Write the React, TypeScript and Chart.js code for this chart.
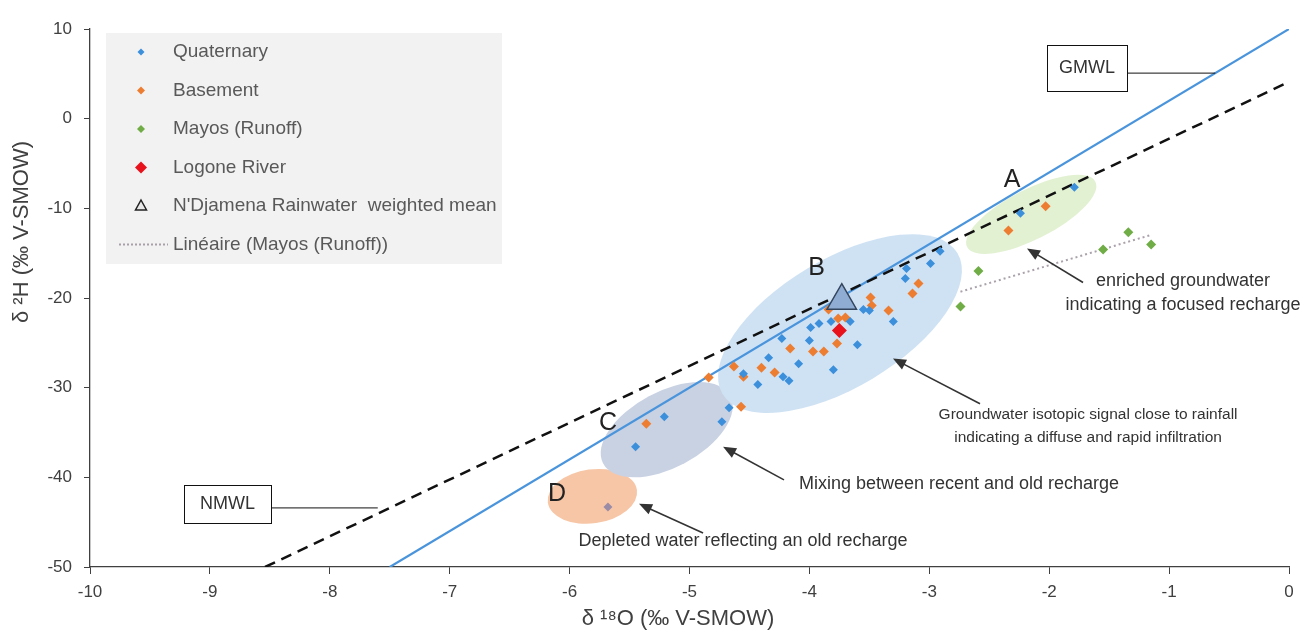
import React, { useEffect, useRef } from "react";
import { Chart, registerables } from "chart.js";

Chart.register(...registerables);

// ---------- data ----------
const X_MIN = -10;
const X_MAX = 0;
const Y_MIN = -50;
const Y_MAX = 10;

const quaternary: [number, number][] = [
  [-2.91, -14.8], [-2.99, -16.15], [-3.19, -16.7], [-3.2, -17.82], [-3.3, -22.63],
  [-3.5, -21.4], [-3.55, -21.28], [-3.66, -22.63], [-3.6, -25.2], [-3.8, -27.99],
  [-3.82, -22.63], [-3.92, -22.85], [-3.99, -23.3], [-4.0, -24.75], [-4.23, -24.53],
  [-4.09, -27.32], [-4.34, -26.65], [-4.22, -28.77], [-4.17, -29.22], [-4.43, -29.66],
  [-4.55, -28.44], [-4.67, -32.23], [-4.73, -33.8], [-5.21, -33.24], [-5.45, -36.59],
  [-5.68, -43.3], [-1.79, -7.65], [-2.24, -10.56],
];

const basement: [number, number][] = [
  [-2.34, -12.46], [-2.03, -9.78], [-3.09, -18.38], [-3.14, -19.5], [-3.49, -19.94],
  [-3.48, -20.84], [-3.34, -21.4], [-3.84, -21.28], [-3.76, -22.29], [-3.7, -22.18],
  [-3.77, -25.08], [-3.97, -25.98], [-3.88, -25.98], [-4.16, -25.64], [-4.4, -27.77],
  [-4.55, -28.77], [-4.29, -28.32], [-4.63, -27.65], [-4.84, -28.88], [-4.57, -32.12],
  [-5.36, -34.02],
];

const mayos: [number, number][] = [
  [-2.59, -17.0], [-2.74, -20.95], [-1.55, -14.58], [-1.34, -12.68], [-1.15, -14.02],
];

const logone: [number, number][] = [[-3.75, -23.63]];
const rainMean: [number, number][] = [[-3.73, -20.3]];

// meteoric water lines (end points)
const gmwl: [number, number][] = [[-7.5, -50], [0, 10]];
const nmwl: [number, number][] = [[-8.54, -50], [0, 4.1]];

const LEGEND_LABELS = [
  "Quaternary",
  "Basement",
  "Mayos (Runoff)",
  "Logone River",
  "N'Djamena Rainwater  weighted mean",
  "Linéaire (Mayos (Runoff))",
];

// ---------- styles ----------
const C_BLUE = "#3b8fdb";
const C_ORANGE = "#ed7d31";
const C_GREEN = "#70ad47";
const C_RED = "#e8121c";
const C_GMWL = "#4a94db";
const FONT = "'Liberation Sans', Arial, Helvetica, sans-serif";
const TXT = "#333333";

// annotations (positions in data units, sizes in px)
const ELLIPSES = [
  { cx: -5.81, cy: -42.12, rx: 45, ry: 27, angle: -8, color: "#f7c6a6" },
  { cx: -5.19, cy: -34.69, rx: 72, ry: 38, angle: -28, color: "#c9d2e3" },
  { cx: -2.15, cy: -10.67, rx: 72, ry: 25, angle: -27, color: "#e3f1d3" },
  { cx: -3.745, cy: -22.85, rx: 137, ry: 64, angle: -31, color: "#cfe2f4" },
];

const LETTERS = [
  { t: "A", x: -2.31, y: -6.87 },
  { t: "B", x: -3.94, y: -16.7 },
  { t: "C", x: -5.68, y: -33.91 },
  { t: "D", x: -6.105, y: -41.84 },
];

const NOTES = [
  { t: "enriched groundwater", x: -0.884, y: -18.16, size: 18 },
  { t: "indicating a focused recharge", x: -0.884, y: -20.73, size: 18 },
  { t: "Groundwater isotopic signal close to rainfall", x: -1.676, y: -33.02, size: 15.5 },
  { t: "indicating a diffuse and rapid infiltration", x: -1.676, y: -35.59, size: 15.5 },
  { t: "Mixing between recent and old recharge", x: -2.752, y: -40.73, size: 18 },
  { t: "Depleted water reflecting an old recharge", x: -4.554, y: -47.09, size: 18 },
];

const ARROWS = [
  { x1: -1.718, y1: -18.27, x2: -2.185, y2: -14.47 },
  { x1: -2.577, y1: -31.79, x2: -3.303, y2: -26.76 },
  { x1: -4.212, y1: -40.28, x2: -4.72, y2: -36.59 },
  { x1: -4.887, y1: -46.2, x2: -5.421, y2: -42.96 },
];

const BOXES = [
  { t: "GMWL", x: -1.685, y: 5.64, w: 80, h: 46, lx: -0.615, ly: 5.08 },
  { t: "NMWL", x: -8.853, y: -42.96, w: 87, h: 38, lx: -7.6, ly: -43.41 },
];

const toPts = (a: [number, number][]) => a.map(([x, y]) => ({ x, y }));

function linearFit(a: [number, number][]) {
  const n = a.length;
  const mx = a.reduce((s, p) => s + p[0], 0) / n;
  const my = a.reduce((s, p) => s + p[1], 0) / n;
  let sxy = 0;
  let sxx = 0;
  a.forEach(([x, y]) => {
    sxy += (x - mx) * (y - my);
    sxx += (x - mx) * (x - mx);
  });
  const b = sxy / sxx;
  const xs = a.map((p) => p[0]);
  const x0 = Math.min(...xs);
  const x1 = Math.max(...xs);
  return [
    { x: x0, y: my + b * (x0 - mx) },
    { x: x1, y: my + b * (x1 - mx) },
  ];
}

function drawArrow(ctx: CanvasRenderingContext2D, x1: number, y1: number, x2: number, y2: number) {
  const ang = Math.atan2(y2 - y1, x2 - x1);
  const L = 13;
  const W = 5.5;
  ctx.beginPath();
  ctx.moveTo(x1, y1);
  ctx.lineTo(x2 - Math.cos(ang) * L * 0.8, y2 - Math.sin(ang) * L * 0.8);
  ctx.stroke();
  ctx.beginPath();
  ctx.moveTo(x2, y2);
  ctx.lineTo(x2 - Math.cos(ang) * L - Math.sin(ang) * W, y2 - Math.sin(ang) * L + Math.cos(ang) * W);
  ctx.lineTo(x2 - Math.cos(ang) * L + Math.sin(ang) * W, y2 - Math.sin(ang) * L - Math.cos(ang) * W);
  ctx.closePath();
  ctx.fill();
}

const overlay = {
  id: "overlay",
  beforeDatasetsDraw(chart: any) {
    const { ctx, scales } = chart;
    const xs = scales.x;
    const ys = scales.y;
    ctx.save();
    ELLIPSES.forEach((e) => {
      ctx.beginPath();
      ctx.ellipse(
        xs.getPixelForValue(e.cx),
        ys.getPixelForValue(e.cy),
        e.rx,
        e.ry,
        (e.angle * Math.PI) / 180,
        0,
        Math.PI * 2
      );
      ctx.fillStyle = e.color;
      ctx.fill();
    });
    ctx.restore();
  },
  afterDatasetsDraw(chart: any) {
    const { ctx, scales } = chart;
    const xs = scales.x;
    const ys = scales.y;
    const px = (v: number) => xs.getPixelForValue(v);
    const py = (v: number) => ys.getPixelForValue(v);
    ctx.save();

    // letters
    ctx.fillStyle = "#222";
    ctx.font = `25px ${FONT}`;
    ctx.textAlign = "center";
    ctx.textBaseline = "middle";
    LETTERS.forEach((l) => ctx.fillText(l.t, px(l.x), py(l.y)));

    // arrows
    ctx.strokeStyle = "#333";
    ctx.fillStyle = "#333";
    ctx.lineWidth = 1.6;
    ARROWS.forEach((a) => drawArrow(ctx, px(a.x1), py(a.y1), px(a.x2), py(a.y2)));

    // notes
    ctx.fillStyle = TXT;
    NOTES.forEach((n) => {
      ctx.font = `${n.size}px ${FONT}`;
      ctx.fillText(n.t, px(n.x), py(n.y));
    });

    // label boxes with leader lines
    BOXES.forEach((b) => {
      const cx = px(b.x);
      const cy = py(b.y);
      const ly = py(b.ly);
      ctx.strokeStyle = "#111";
      ctx.lineWidth = 1;
      ctx.beginPath();
      ctx.moveTo(cx + b.w / 2, ly);
      ctx.lineTo(px(b.lx), ly);
      ctx.stroke();
      ctx.fillStyle = "#fff";
      ctx.fillRect(cx - b.w / 2, cy - b.h / 2, b.w, b.h);
      ctx.strokeRect(Math.round(cx - b.w / 2) + 0.5, Math.round(cy - b.h / 2) + 0.5, b.w, b.h);
      ctx.fillStyle = TXT;
      ctx.font = `18px ${FONT}`;
      ctx.fillText(b.t, cx, cy);
    });

    // legend
    const lx = 106;
    const ly0 = 33;
    ctx.fillStyle = "#f2f2f2";
    ctx.fillRect(lx, ly0, 396, 231);
    const rowY = (i: number) => 52 + i * 38.5;
    const mx = 141;
    const diamond = (x: number, y: number, r: number, c: string) => {
      ctx.beginPath();
      ctx.moveTo(x, y - r);
      ctx.lineTo(x + r, y);
      ctx.lineTo(x, y + r);
      ctx.lineTo(x - r, y);
      ctx.closePath();
      ctx.fillStyle = c;
      ctx.fill();
    };
    diamond(mx, rowY(0), 3.5, C_BLUE);
    diamond(mx, rowY(1), 4, C_ORANGE);
    diamond(mx, rowY(2), 4, C_GREEN);
    diamond(mx, rowY(3), 6, C_RED);
    // triangle
    ctx.beginPath();
    ctx.moveTo(mx, rowY(4) - 6);
    ctx.lineTo(mx + 5.5, rowY(4) + 4);
    ctx.lineTo(mx - 5.5, rowY(4) + 4);
    ctx.closePath();
    ctx.fillStyle = "#e8e8e8";
    ctx.fill();
    ctx.strokeStyle = "#222";
    ctx.lineWidth = 1.5;
    ctx.stroke();
    // dotted
    ctx.strokeStyle = "#a8a0a8";
    ctx.lineWidth = 2;
    ctx.setLineDash([2, 2]);
    ctx.beginPath();
    ctx.moveTo(119, rowY(5));
    ctx.lineTo(168, rowY(5));
    ctx.stroke();
    ctx.setLineDash([]);
    ctx.fillStyle = "#595959";
    ctx.font = `19px ${FONT}`;
    ctx.textAlign = "left";
    LEGEND_LABELS.forEach((t, i) => ctx.fillText(t, 173, rowY(i)));

    // axis titles
    ctx.fillStyle = "#404040";
    ctx.font = `22px ${FONT}`;
    ctx.textAlign = "center";
    ctx.fillText("δ ¹⁸O (‰ V-SMOW)", 678, 619);
    ctx.translate(22, 232);
    ctx.rotate(-Math.PI / 2);
    ctx.fillText("δ ²H (‰ V-SMOW)", 0, 0);
    ctx.restore();
  },
};

export default function App() {
  const ref = useRef<HTMLCanvasElement | null>(null);

  useEffect(() => {
    if (!ref.current) return;
    const chart = new Chart(ref.current, {
      type: "scatter",
      data: {
        datasets: [
          {
            label: LEGEND_LABELS[4],
            data: toPts(rainMean),
            pointStyle: "triangle",
            pointRadius: 17,
            backgroundColor: "#8fadd3",
            borderColor: "#34465e",
            borderWidth: 1.5,
            order: 0,
          },
          {
            label: LEGEND_LABELS[3],
            data: toPts(logone),
            pointStyle: "rectRot",
            pointRadius: 7.5,
            backgroundColor: C_RED,
            borderWidth: 0,
            order: 1,
          },
          {
            label: LEGEND_LABELS[0],
            data: toPts(quaternary),
            pointStyle: "rectRot",
            pointRadius: 4.5,
            backgroundColor: (c: any) => (c.raw && c.raw.x < -5.6 ? "#9a8ca6" : C_BLUE),
            borderWidth: 0,
            order: 2,
          },
          {
            label: LEGEND_LABELS[1],
            data: toPts(basement),
            pointStyle: "rectRot",
            pointRadius: 5,
            backgroundColor: C_ORANGE,
            borderWidth: 0,
            order: 3,
          },
          {
            label: LEGEND_LABELS[2],
            data: toPts(mayos),
            pointStyle: "rectRot",
            pointRadius: 5,
            backgroundColor: C_GREEN,
            borderWidth: 0,
            order: 4,
          },
          {
            label: LEGEND_LABELS[5],
            data: linearFit(mayos),
            showLine: true,
            pointRadius: 0,
            borderColor: "#aaa2aa",
            borderWidth: 2,
            borderDash: [2, 3],
            order: 5,
          },
          {
            label: "NMWL",
            data: toPts(nmwl),
            showLine: true,
            pointRadius: 0,
            borderColor: "#111",
            borderWidth: 2.5,
            borderDash: [11, 7],
            order: 6,
          },
          {
            label: "GMWL",
            data: toPts(gmwl),
            showLine: true,
            pointRadius: 0,
            borderColor: C_GMWL,
            borderWidth: 2.2,
            order: 7,
          },
        ],
      },
      options: {
        animation: false,
        responsive: true,
        maintainAspectRatio: false,
        layout: { padding: { left: 0, right: 24, top: 29, bottom: 0 } },
        plugins: {
          legend: { display: false },
          tooltip: { enabled: false },
        },
        scales: {
          x: {
            type: "linear",
            min: X_MIN,
            max: X_MAX,
            ticks: {
              stepSize: 1,
              color: "#404040",
              font: { size: 17, family: FONT },
              padding: 8,
            },
            grid: {
              display: true,
              drawOnChartArea: false,
              drawTicks: true,
              tickLength: 7,
              color: "#404040",
            },
            border: { display: true, color: "#404040", width: 1.3 },
            afterFit: (s: any) => {
              s.height = 64;
            },
          },
          y: {
            type: "linear",
            min: Y_MIN,
            max: Y_MAX,
            ticks: {
              stepSize: 10,
              color: "#404040",
              font: { size: 17, family: FONT },
              padding: 12,
            },
            grid: {
              display: true,
              drawOnChartArea: false,
              drawTicks: true,
              tickLength: 6,
              color: "#404040",
            },
            border: { display: true, color: "#404040", width: 1.3 },
            afterFit: (s: any) => {
              s.width = 90;
            },
          },
        },
      },
      plugins: [overlay],
    } as any);
    return () => chart.destroy();
  }, []);

  return (
    <div style={{ position: "fixed", left: 0, top: 0, width: "100vw", height: "100vh", background: "#fff" }}>
      <canvas ref={ref} />
    </div>
  );
}
